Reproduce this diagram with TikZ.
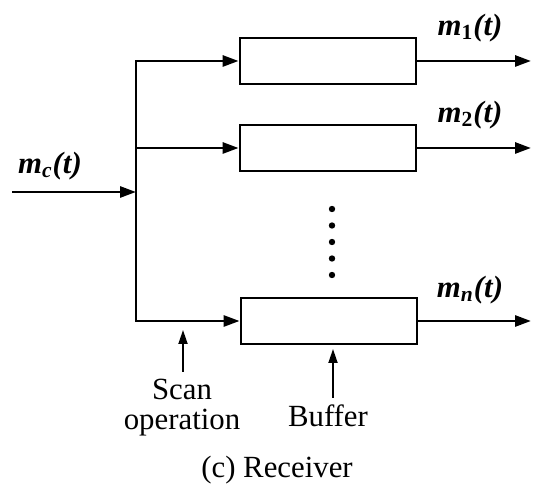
\documentclass[tikz,border=0pt]{standalone}
\usepackage{fontspec}
\setmainfont{Liberation Serif}
\usetikzlibrary{arrows.meta}
\begin{document}
\begin{tikzpicture}[x=0.5pt,y=-0.5pt,
  every node/.style={font=\fontsize{15.4}{15}\selectfont},
  buf/.style={draw,line width=1.4pt,minimum width=88pt,minimum height=23pt,inner sep=0pt},
  wire/.style={line width=1.4pt},
  arr/.style={wire,-{Triangle[length=8pt,width=5.5pt]}},
  thin arr/.style={line width=0.9pt,-{Triangle[length=7pt,width=4.5pt]}},
  sig/.style={font=\fontsize{15.4}{15}\selectfont\bfseries}]
\useasboundingbox (0,0) rectangle (535,485);
% buffers
\node[buf] (b1) at (328,61) {};
\node[buf] (b2) at (328,148) {};
\node[buf] (bn) at (329,321) {};
% bus
\coordinate (bj) at (136,192);
\coordinate (bm) at (bj |- b2.west);
\coordinate (in) at (12,192);
\draw[arr] (bj) |- (b1.west);
\draw[arr] (bj) |- (bn.west);
\draw[arr] (bm) -- (b2.west);
\draw[arr] (in) -- (bj);
% outputs
\coordinate (o1) at (531,61);
\coordinate (o2) at (531,148);
\coordinate (on) at (531,321);
\draw[arr] (b1.east) -- (o1);
\draw[arr] (b2.east) -- (o2);
\draw[arr] (bn.east) -- (on);
% labels
\node[sig] (lc) at (50,166) {\textit{m}\textsubscript{\textit{c}}\textit{(t)}};
\node[sig] (l1) at (470,28) {\textit{m}\textsubscript{1}\textit{(t)}};
\node[sig] (l2) at (470,115) {\textit{m}\textsubscript{2}\textit{(t)}};
\node[sig] (ln) at (470,290) {\textit{m}\textsubscript{\textit{n}}\textit{(t)}};
% dots
\foreach \i/\yy in {1/209,2/225.5,3/242,4/258.5,5/275}
  \fill (332,\yy) circle (1.6pt);
% annotations
\node[align=center,anchor=north] (scan) at (182,372) {Scan\\operation};
\coordinate (sa) at (183,330);
\draw[thin arr] (scan.north -| sa) -- (sa);
\node[anchor=north] (bufl) at (328,398) {Buffer};
\coordinate (ba) at (333,349);
\draw[thin arr] (bufl.north -| ba) -- (ba);
\node (cap) at (277,470) {(c) Receiver};
\end{tikzpicture}
\end{document}
